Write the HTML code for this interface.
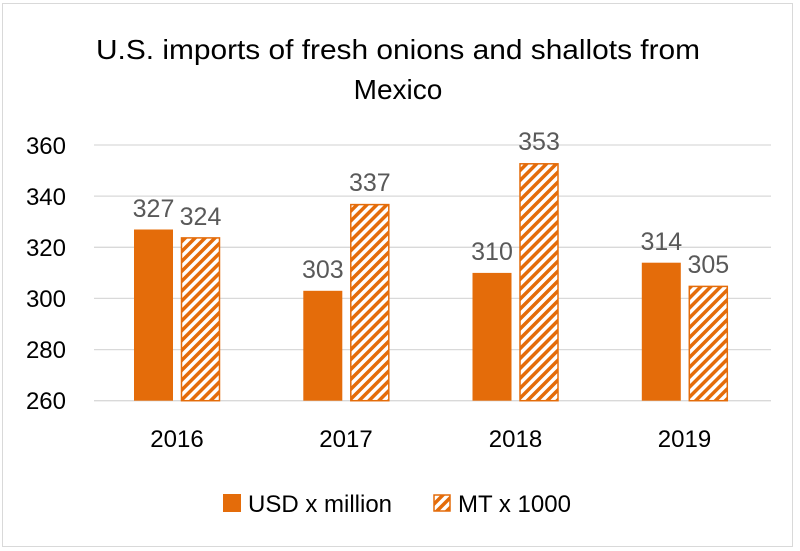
<!DOCTYPE html>
<html><head><meta charset="utf-8"><style>body{margin:0;background:#fff}svg{display:block}text{font-family:"Liberation Sans",sans-serif}</style></head>
<body>
<svg width="800" height="551" viewBox="0 0 800 551">
<defs>
<pattern id="h" patternUnits="userSpaceOnUse" width="7" height="7" patternTransform="rotate(45)">
<rect width="7" height="7" fill="#E46C0A"/><rect x="0" width="3.5" height="7" fill="#fff"/>
</pattern>
</defs>
<rect x="2.5" y="3.5" width="790" height="543" fill="#fff" stroke="#d9d9d9"/>
<text x="398" y="59" font-size="28" text-anchor="middle" fill="#000" textLength="604" lengthAdjust="spacingAndGlyphs">U.S. imports of fresh onions and shallots from</text>
<text x="398" y="99" font-size="28" text-anchor="middle" fill="#000">Mexico</text>
<g stroke="#d9d9d9" stroke-width="1.3">
<line x1="94" x2="771" y1="145" y2="145"/><line x1="94" x2="771" y1="196.1" y2="196.1"/>
<line x1="94" x2="771" y1="247.3" y2="247.3"/><line x1="94" x2="771" y1="298.4" y2="298.4"/>
<line x1="94" x2="771" y1="349.6" y2="349.6"/><line x1="94" x2="771" y1="400.7" y2="400.7"/>
</g>
<g font-size="24" text-anchor="end" fill="#000">
<text x="66" y="154">360</text><text x="66" y="205">340</text><text x="66" y="256">320</text>
<text x="66" y="307">300</text><text x="66" y="358">280</text><text x="66" y="409">260</text>
</g>
<g fill="#E46C0A">
<rect x="134" y="229.5" width="39" height="171.2"/>
<rect x="303.3" y="290.8" width="39" height="109.9"/>
<rect x="472.5" y="272.9" width="39" height="127.8"/>
<rect x="641.8" y="262.7" width="39" height="138"/>
</g>
<g fill="url(#h)" stroke="#E46C0A" stroke-width="1.5">
<rect x="181.5" y="237.9" width="38" height="162.8"/>
<rect x="350.8" y="204.6" width="38" height="196.1"/>
<rect x="520" y="163.8" width="38" height="236.9"/>
<rect x="689.3" y="286.4" width="38" height="114.3"/>
</g>
<g font-size="25" text-anchor="middle" fill="#595959">
<text x="153.5" y="217">327</text><text x="200.5" y="225">324</text>
<text x="322.8" y="278">303</text><text x="369.8" y="191">337</text>
<text x="492" y="260">310</text><text x="539" y="150">353</text>
<text x="661.3" y="250">314</text><text x="708.3" y="273">305</text>
</g>
<g font-size="24" text-anchor="middle" fill="#000">
<text x="177" y="447">2016</text><text x="346" y="447">2017</text>
<text x="515.5" y="447">2018</text><text x="684.5" y="447">2019</text>
</g>
<rect x="223" y="494" width="18" height="18" fill="#E46C0A"/>
<text x="248" y="512" font-size="24" fill="#000">USD x million</text>
<rect x="434" y="495" width="16" height="16" fill="url(#h)" stroke="#E46C0A" stroke-width="1.5"/>
<text x="458" y="512" font-size="24" fill="#000">MT x 1000</text>
</svg>
</body></html>
